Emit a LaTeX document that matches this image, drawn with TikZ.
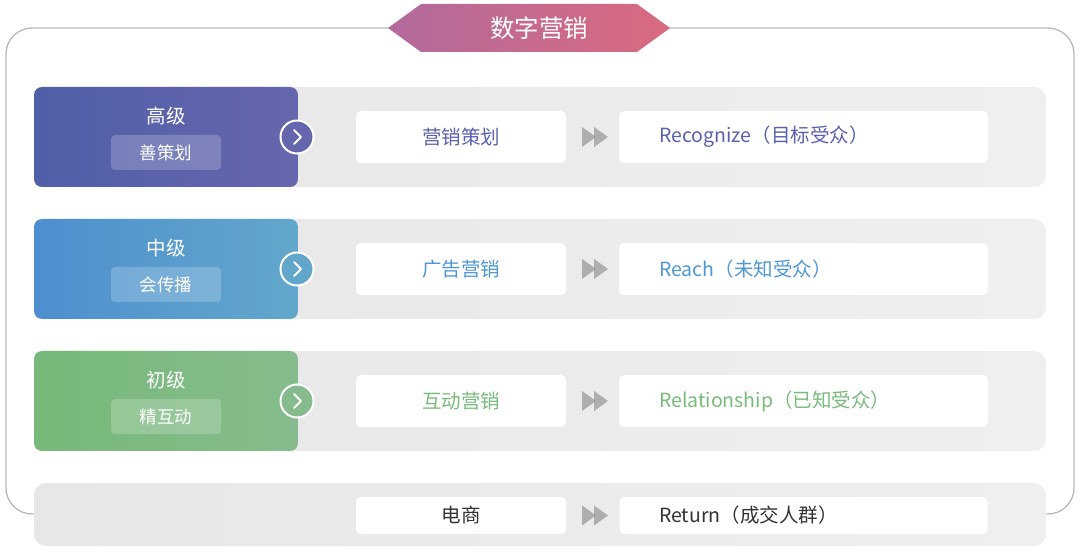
\documentclass[tikz,border=0pt]{standalone}
\usepackage{fontspec}
\setmainfont{Noto Sans CJK SC}
\definecolor{framec}{HTML}{B8B8B8}
\definecolor{bannerL}{HTML}{B26A9C}
\definecolor{bannerR}{HTML}{DA6A80}
\definecolor{grayL}{HTML}{E7E7E7}
\definecolor{grayR}{HTML}{EFEFEF}
\definecolor{arrowc}{HTML}{8E8E8E}
\definecolor{aL}{HTML}{4F5FA8}
\definecolor{aR}{HTML}{6666AE}
\definecolor{aT}{HTML}{5A60AE}
\definecolor{bL}{HTML}{4D8FCF}
\definecolor{bR}{HTML}{62A7CB}
\definecolor{bT}{HTML}{4F97D3}
\definecolor{cL}{HTML}{76B978}
\definecolor{cR}{HTML}{86BC8D}
\definecolor{cT}{HTML}{78BB7B}
\definecolor{dT}{HTML}{333333}
\begin{document}
\begin{tikzpicture}[x=1pt,y=-1pt,
  wbox/.style={fill=white, rounded corners=5pt, inner sep=0pt},
  midtxt/.style={font=\fontsize{19.5}{23}\selectfont},
  pill/.style={fill=white, fill opacity=0.2, text opacity=1, text=white, rounded corners=4pt,
     minimum width=110pt, minimum height=35pt, inner sep=0pt, font=\fontsize{17.5}{20}\selectfont},
  lvl/.style={text=white, font=\fontsize{19.5}{22}\selectfont, inner sep=0pt},
  chev/.style={circle, draw=white, line width=2pt, minimum size=33pt, inner sep=0pt},
  chevline/.style={white, line width=2pt, line cap=round, line join=round},
  tri/.style={fill=arrowc, fill opacity=0.65, draw=none}
]
\useasboundingbox (0,0) rectangle (1080,553);
% outer frame
\draw[framec, line width=1.3pt, rounded corners=26pt] (6,28) rectangle (1074,514);
% banner
\shade[left color=bannerL, right color=bannerR] (388,28) -- (421,4) -- (637,4) -- (670,28) -- (637,52) -- (421,52) -- cycle;
\node[text=white, font=\fontsize{24.5}{27}\selectfont, inner sep=0pt] (title) at (539,28) {数字营销};
% rows
\foreach \i/\y/\cl/\cr/\tc/\lv/\pl/\ta/\tb in {
  1/87/aL/aR/aT/高级/善策划/营销策划/Recognize（目标受众）,
  2/219/bL/bR/bT/中级/会传播/广告营销/Reach（未知受众）,
  3/351/cL/cR/cT/初级/精互动/互动营销/Relationship（已知受众）}{
  \shade[left color=grayL, right color=grayR, rounded corners=12pt] (34,\y) rectangle (1046,\y+100);
  \shade[left color=\cl, right color=\cr, rounded corners=8pt] (34,\y) rectangle (298,\y+100);
  \node[lvl] (lv\i) at (166,\y+29) {\lv};
  \node[pill] (pl\i) at (166,\y+65.5) {\pl};
  \node[chev, fill=\cr] (ch\i) at (297,\y+50) {};
  \draw[chevline] (294,\y+43) -- (301,\y+50) -- (294,\y+57);
  \node[wbox, minimum width=210pt, minimum height=52pt] (wa\i) at (461,\y+50) {};
  \node[midtxt, text=\tc, inner sep=0pt] (ta\i) at (wa\i) {\ta};
  \fill[tri] (582,\y+40) -- (596,\y+50) -- (582,\y+60) -- cycle;
  \fill[tri] (594,\y+40) -- (608,\y+50) -- (594,\y+60) -- cycle;
  \node[wbox, minimum width=369pt, minimum height=52pt] (wb\i) at (803.5,\y+50) {};
  \node[midtxt, text=\tc, anchor=west, inner sep=0pt] (tb\i) at (659,\y+50) {\tb};
}
% bottom row
\shade[left color=grayL, right color=grayR, rounded corners=12pt] (34,483) rectangle (1046,546);
\node[wbox, minimum width=210pt, minimum height=37pt] (wa4) at (461,515.5) {};
\node[midtxt, text=dT, inner sep=0pt] (ta4) at (wa4) {电商};
\fill[tri] (582,505.5) -- (596,515.5) -- (582,525.5) -- cycle;
\fill[tri] (594,505.5) -- (608,515.5) -- (594,525.5) -- cycle;
\node[wbox, minimum width=368pt, minimum height=37pt] (wb4) at (803.5,515.5) {};
\node[midtxt, text=dT, anchor=west, inner sep=0pt] (tb4) at (659,515.5) {Return（成交人群）};
\end{tikzpicture}
\end{document}
